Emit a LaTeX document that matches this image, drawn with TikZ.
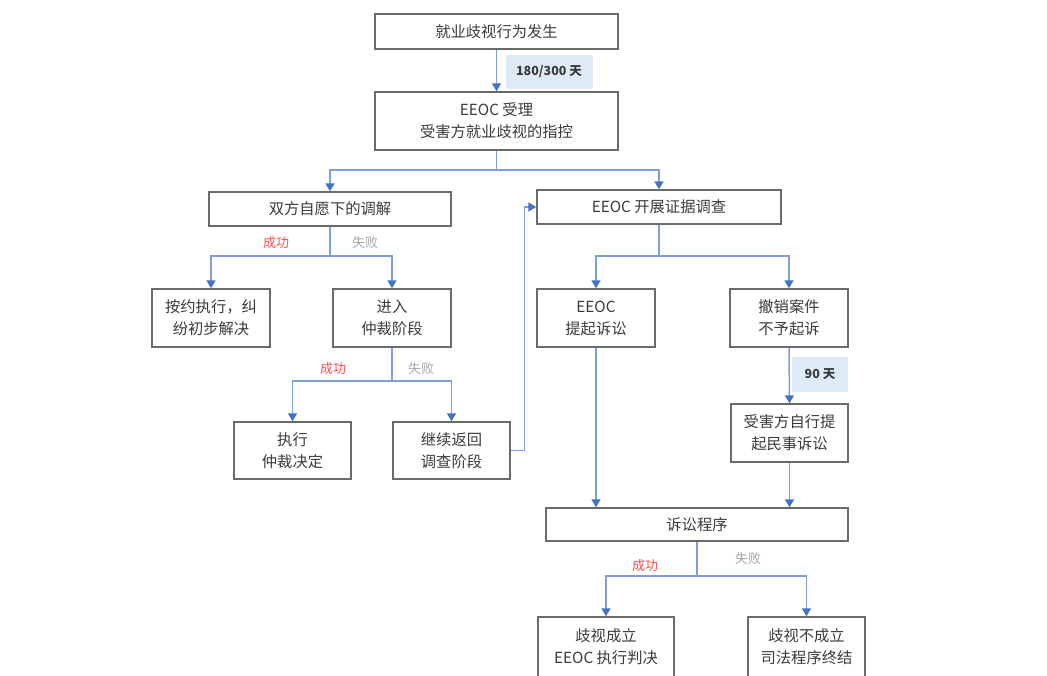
\documentclass[tikz,border=0pt]{standalone}
\usepackage{fontspec}
\setmainfont{Noto Sans CJK SC}
\usetikzlibrary{arrows.meta}
\definecolor{lineblue}{HTML}{7E9FDC}
\definecolor{tipblue}{HTML}{4472C4}
\definecolor{boxgray}{HTML}{6A6A6A}
\definecolor{tagfill}{HTML}{DEEBF7}
\definecolor{okred}{HTML}{FF4F4F}
\definecolor{failgray}{HTML}{A6A6A6}
\definecolor{txt}{HTML}{3A3A3A}
\begin{document}
\begin{tikzpicture}[x=1pt,y=-1pt,
  box/.style={draw=boxgray, line width=1.4pt, inner sep=0pt, align=center,
    text=txt, font=\fontsize{15.3}{22}\selectfont},
  tag/.style={fill=tagfill, inner sep=0pt, text=txt,
    font=\fontsize{12.5}{14}\selectfont\bfseries},
  conn/.style={draw=lineblue, line width=1.5pt,
    -{Triangle[length=8pt,width=9pt,color=tipblue]}},
  plain/.style={draw=lineblue, line width=1.5pt},
  oklab/.style={text=okred, font=\fontsize{13}{14}\selectfont},
  faillab/.style={text=failgray, font=\fontsize{13}{14}\selectfont}]
\useasboundingbox (0,0) rectangle (1047,675);

% boxes
\node[box, minimum width=243pt, minimum height=35pt] (b1) at (496.5,31.5) {就业歧视行为发生};
\node[box, minimum width=243pt, minimum height=58pt] (b2) at (496.5,121) {EEOC 受理\\受害方就业歧视的指控};
\node[box, minimum width=242pt, minimum height=34pt] (b3) at (330,209) {双方自愿下的调解};
\node[box, minimum width=244pt, minimum height=34pt] (b4) at (659,207) {EEOC 开展证据调查};
\node[box, minimum width=118pt, minimum height=58pt] (b5) at (211,318) {按约执行，纠\\纷初步解决};
\node[box, minimum width=118pt, minimum height=58pt] (b6) at (392,318) {进入\\仲裁阶段};
\node[box, minimum width=117pt, minimum height=57pt] (b7) at (292.5,450.5) {执行\\仲裁决定};
\node[box, minimum width=117pt, minimum height=57pt] (b8) at (451.5,450.5) {继续返回\\调查阶段};
\node[box, minimum width=118pt, minimum height=58pt] (b9) at (596,318) {EEOC\\提起诉讼};
\node[box, minimum width=118pt, minimum height=58pt] (b10) at (789,318) {撤销案件\\不予起诉};
\node[box, minimum width=117pt, minimum height=58pt] (b11) at (789.5,433) {受害方自行提\\起民事诉讼};
\node[box, minimum width=302pt, minimum height=33pt] (b12) at (697,524.5) {诉讼程序};
\node[box, minimum width=136pt, minimum height=60pt] (b13) at (606,647) {歧视成立\\EEOC 执行判决};
\node[box, minimum width=117pt, minimum height=60pt] (b14) at (806.5,647) {歧视不成立\\司法程序终结};

% tags
\node[tag, minimum width=87pt, minimum height=34pt] (t1) at (549,72) {180/300 天};
\node[tag, minimum width=56pt, minimum height=35pt] (t2) at (820,374.5) {90 天};

% junctions
\coordinate (j1) at (496.5,170);
\coordinate (j2) at (330,256);
\coordinate (j3) at (392,381);
\coordinate (j4) at (659,256);
\coordinate (j5) at (697,576);

% connectors
\draw[conn] (b1.south) -- (b2.north);
\draw[plain] (b2.south) -- (j1);
\draw[conn] (j1) -| (b3.north);
\draw[conn] (j1) -| (b4.north);
\draw[plain] (b3.south) -- (j2);
\draw[conn] (j2) -| (b5.north);
\draw[conn] (j2) -| (b6.north);
\draw[plain] (b6.south) -- (j3);
\draw[conn] (j3) -| (b7.north);
\draw[conn] (j3) -| (b8.north);
\draw[conn] (b8.east) -- ++(14,0) |- (b4.west);
\draw[plain] (b4.south) -- (j4);
\draw[conn] (j4) -| (b9.north);
\draw[conn] (j4) -| (b10.north);
\draw[conn] (b10.south) -- (b11.north);
\draw[conn] (b9.south) -- (b9.south |- b12.north);
\draw[conn] (b11.south) -- (b11.south |- b12.north);
\draw[plain] (b12.south) -- (j5);
\draw[conn] (j5) -| (b13.north);
\draw[conn] (j5) -| (b14.north);

% branch labels
\node[oklab] (l1) at (276,243) {成功};
\node[faillab] (l2) at (365,243) {失败};
\node[oklab] (l3) at (333,369) {成功};
\node[faillab] (l4) at (421,369) {失败};
\node[oklab] (l5) at (645,566) {成功};
\node[faillab] (l6) at (748,559) {失败};
\end{tikzpicture}
\end{document}
